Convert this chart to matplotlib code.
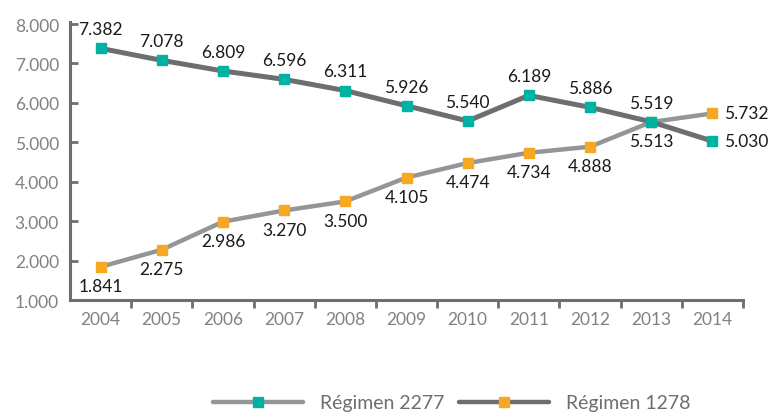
import matplotlib
matplotlib.use("Agg")
import matplotlib.pyplot as plt
from matplotlib.lines import Line2D

years = ["2004", "2005", "2006", "2007", "2008", "2009", "2010", "2011", "2012", "2013", "2014"]
regimen_dark = [7382, 7078, 6809, 6596, 6311, 5926, 5540, 6189, 5886, 5519, 5030]
regimen_light = [1841, 2275, 2986, 3270, 3500, 4105, 4474, 4734, 4888, 5513, 5732]
legend_labels = ["Régimen 2277", "Régimen 1278"]
yticks = [1000, 2000, 3000, 4000, 5000, 6000, 7000, 8000]

DARK = "#6d6e71"
LIGHT = "#939598"
TEAL = "#00b2a3"
ORANGE = "#f7a823"
TICKC = "#808184"

plt.rcParams['font.family'] = ['Lato', 'DejaVu Sans']

fig = plt.figure(figsize=(7.7, 4.14), dpi=100)
ax = fig.add_axes([70/770, 1 - 301/414, (743-70)/770, (301-25)/414])

x = list(range(len(years)))
ax.plot(x, regimen_light, color=LIGHT, lw=3.2, marker='s', ms=7.5,
        mfc=ORANGE, mec=ORANGE, zorder=3, solid_capstyle='butt')
ax.plot(x, regimen_dark, color=DARK, lw=3.6, marker='s', ms=7.5,
        mfc=TEAL, mec=TEAL, zorder=4, solid_capstyle='butt')

def fmt(v):
    return f"{v:,}".replace(",", ".")

lab_kw = dict(fontsize=12.5, color="#1a1a1a", zorder=5)
for i, v in enumerate(regimen_dark):
    if i == len(years) - 1:
        ax.annotate(fmt(v), (i, v), xytext=(8, 0), textcoords='offset points',
                    ha='left', va='center', **lab_kw)
    else:
        ax.annotate(fmt(v), (i, v), xytext=(0, 8), textcoords='offset points',
                    ha='center', va='bottom', **lab_kw)
for i, v in enumerate(regimen_light):
    if i == len(years) - 1:
        ax.annotate(fmt(v), (i, v), xytext=(8, 0), textcoords='offset points',
                    ha='left', va='center', **lab_kw)
    else:
        ax.annotate(fmt(v), (i, v), xytext=(0, -8), textcoords='offset points',
                    ha='center', va='top', **lab_kw)

ax.set_xlim(-0.5, len(years) - 0.5)
ax.set_ylim(1000, 8000)
ax.set_yticks(yticks)
ax.set_yticklabels([fmt(t) for t in yticks])
ax.set_xticks(x)
ax.set_xticklabels(years)
ax.set_xticks([i + 0.5 for i in x], minor=True)
ax.tick_params(axis='x', which='major', length=0, pad=8, labelsize=12.5, labelcolor=TICKC)
ax.tick_params(axis='x', which='minor', length=6, width=2, color=DARK, direction='out')
ax.tick_params(axis='y', which='major', length=6, width=2, color=DARK, direction='in',
               pad=8, labelsize=12.5, labelcolor=TICKC)

for s in ['top', 'right']:
    ax.spines[s].set_visible(False)
for s in ['left', 'bottom']:
    ax.spines[s].set_color(DARK)
    ax.spines[s].set_linewidth(2.2)
ax.spines['left'].set_bounds(1000, 8050)
for l in ax.lines:
    l.set_clip_on(False)

handles = [
    Line2D([0], [0], color=LIGHT, lw=3.2, marker='s', ms=7, mfc=TEAL, mec=TEAL,
           solid_capstyle='round'),
    Line2D([0], [0], color=DARK, lw=3.2, marker='s', ms=7, mfc=ORANGE, mec=ORANGE,
           solid_capstyle='round'),
]
leg = fig.legend(handles, legend_labels, loc='center', bbox_to_anchor=(452/770, 1 - 404/414),
                 ncol=2, frameon=False, handlelength=4.6, handletextpad=0.9,
                 columnspacing=0.75, labelcolor="#6d6e71", borderpad=0.0,
                 prop={'family': ['Lato', 'DejaVu Sans'], 'size': 14})

fig.savefig("out.png", dpi=100)
